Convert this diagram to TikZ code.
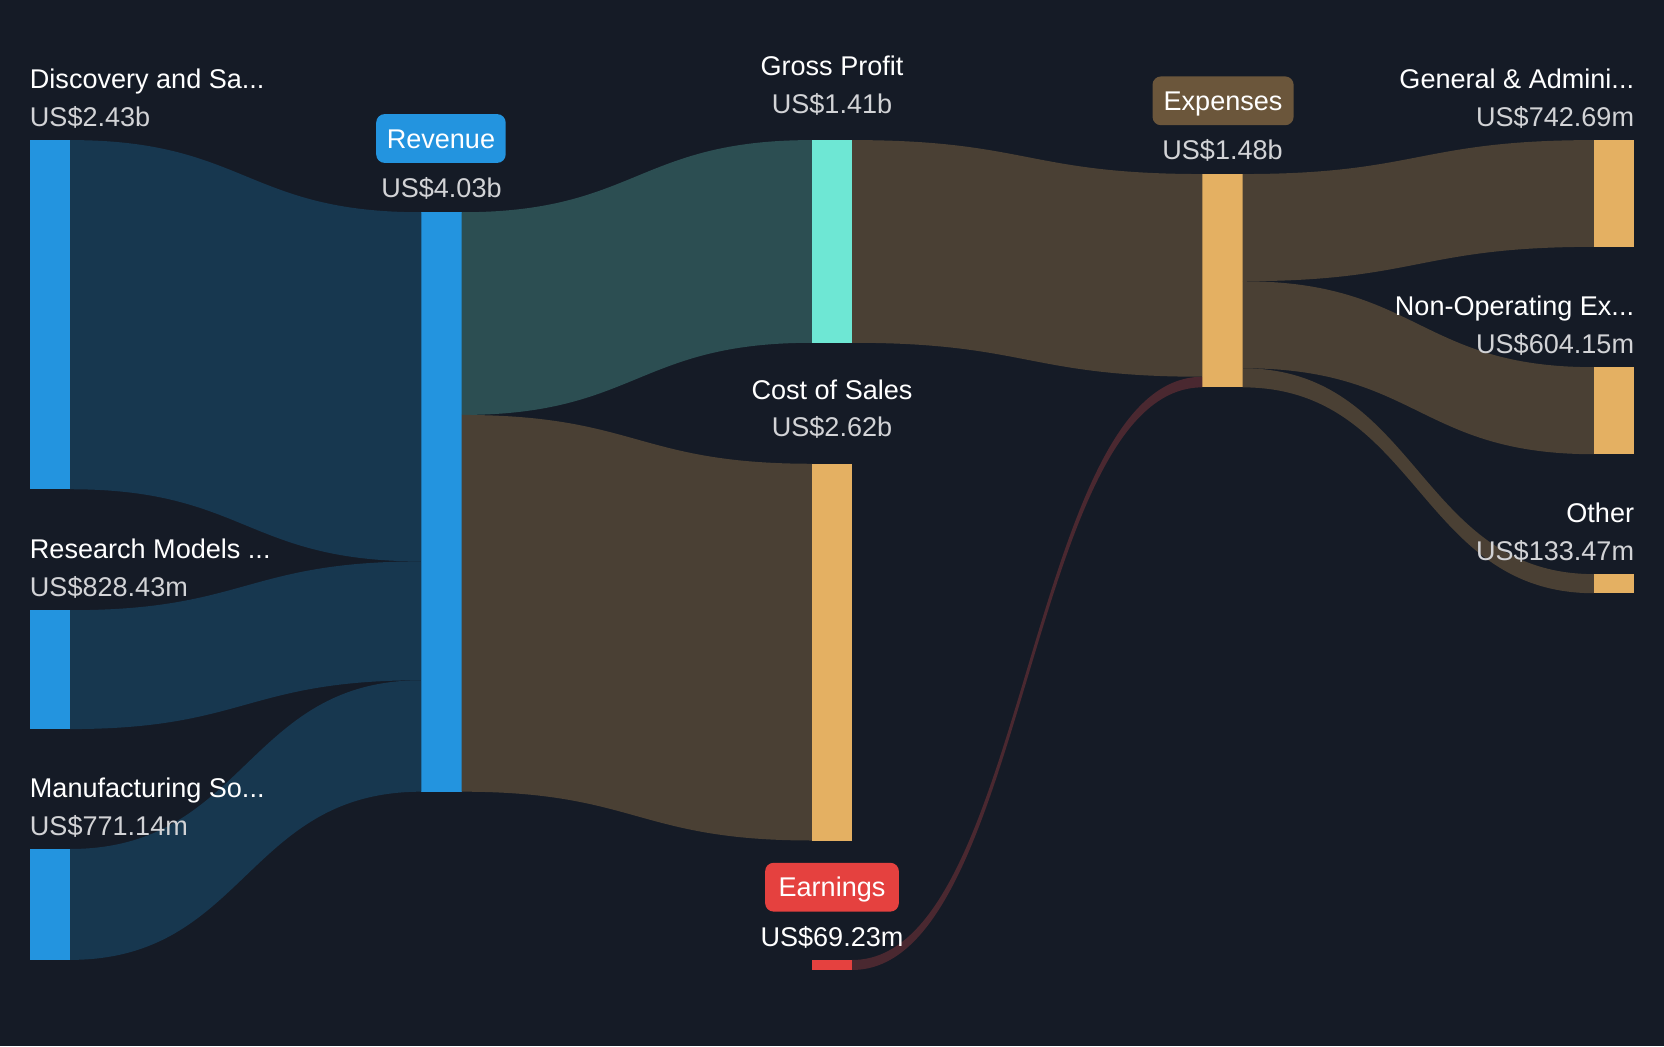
\documentclass[tikz,border=0pt]{standalone}
\usepackage{fontspec}
\setmainfont{Liberation Sans}
\usetikzlibrary{calc}
\definecolor{cBg}{HTML}{151B26}
\definecolor{cBlue}{HTML}{2394DF}
\definecolor{cBlueFlow}{HTML}{17374F}
\definecolor{cTeal}{HTML}{6EE7D4}
\definecolor{cTealFlow}{HTML}{2C4E52}
\definecolor{cOrange}{HTML}{E4B062}
\definecolor{cBrownFlow}{HTML}{4A4034}
\definecolor{cRed}{HTML}{E5413F}
\definecolor{cRedFlow}{HTML}{4A2830}
\definecolor{cExpBox}{HTML}{6B563B}
\definecolor{cVal}{HTML}{D2D3D6}
\newcommand\band[7]{%
  \fill[#1] let \p1=($(#2.north east)+(0,#3)$), \p2=($(#2.north east)+(0,#4)$),
    \p3=($(#5.north west)+(0,#6)$), \p4=($(#5.north west)+(0,#7)$),
    \n1={0.5*(\x1+\x3)} in
    (\p1) .. controls (\n1,\y1) and (\n1,\y3) .. (\p3) -- (\p4)
    .. controls (\n1,\y4) and (\n1,\y2) .. (\p2) -- cycle;}
\tikzset{
  bar/.style={draw=none, inner sep=0pt, outer sep=0pt, minimum width=38pt,
    minimum height=#1pt, anchor=north west},
  lab/.style={font=\fontsize{25.5}{30}\selectfont, text=white, inner sep=0pt},
  val/.style={lab, text=cVal},
  tagbox/.style={lab, rounded corners=8pt, text height=18.3pt, text depth=0pt,
    minimum height=46pt, inner xsep=0pt},
}
\begin{document}
\begin{tikzpicture}[x=1pt,y=-1pt]
\fill[cBg] (0,0) rectangle (1568,986);
\useasboundingbox (0,0) rectangle (1568,986);
% bars
\node[bar=329, fill=cBlue] (disc) at (28,132) {};
\node[bar=112, fill=cBlue] (res) at (28,575) {};
\node[bar=104.5, fill=cBlue] (man) at (28,800) {};
\node[bar=546, fill=cBlue] (rev) at (397,200) {};
\node[bar=191, fill=cTeal] (gp) at (765,132) {};
\node[bar=355, fill=cOrange] (cos) at (765,437) {};
\node[bar=9.4, fill=cRed] (earn) at (765,904.6) {};
\node[bar=201, fill=cOrange] (exp) at (1133,164) {};
\node[bar=100.6, fill=cOrange] (ga) at (1502,132) {};
\node[bar=82, fill=cOrange] (nonop) at (1502,346) {};
\node[bar=18, fill=cOrange] (other) at (1502,541) {};
% flows
\band{cBlueFlow}{disc}{0}{329}{rev}{0}{329}
\band{cBlueFlow}{res}{0}{112}{rev}{329}{441}
\band{cBlueFlow}{man}{0}{104.5}{rev}{441}{546}
\band{cTealFlow}{rev}{0}{191}{gp}{0}{191}
\band{cBrownFlow}{rev}{191}{546}{cos}{0}{355}
\band{cBrownFlow}{gp}{0}{191}{exp}{0}{191}
\band{cRedFlow}{earn}{0}{9.4}{exp}{191}{201}
\band{cBrownFlow}{exp}{0}{101}{ga}{0}{100.6}
\band{cBrownFlow}{exp}{101}{183}{nonop}{0}{82}
\band{cBrownFlow}{exp}{183}{201}{other}{0}{18}
% left labels
\node[lab, anchor=base west] (discN) at (28,83) {Discovery and Sa...};
\node[val, anchor=base west] (discV) at (28,119) {US\$2.43b};
\node[lab, anchor=base west] (resN) at (28,526.5) {Research Models ...};
\node[val, anchor=base west] (resV) at (28,562) {US\$828.43m};
\node[lab, anchor=base west] (manN) at (28,751.5) {Manufacturing So...};
\node[val, anchor=base west] (manV) at (28,787) {US\$771.14m};
% revenue
\node[tagbox, fill=cBlue, minimum width=122pt] (revN) at (415.5,130.5) {Revenue};
\node[val, anchor=base] (revV) at (416,186) {US\$4.03b};
% middle column
\node[lab, anchor=base] (gpN) at (784,71.6) {Gross Profit};
\node[val, anchor=base] (gpV) at (784,107) {US\$1.41b};
\node[lab, anchor=base] (cosN) at (784,376.5) {Cost of Sales};
\node[val, anchor=base] (cosV) at (784,411.5) {US\$2.62b};
\node[tagbox, fill=cRed, minimum width=126pt] (earnN) at (784,836) {Earnings};
\node[val, anchor=base, text=white] (earnV) at (784,891.5) {US\$69.23m};
% expenses
\node[tagbox, fill=cExpBox, minimum width=133pt] (expN) at (1152.5,95) {Expenses};
\node[val, anchor=base] (expV) at (1152,150.5) {US\$1.48b};
% right labels
\node[lab, anchor=base east] (gaN) at (1540,83) {General \& Admini...};
\node[val, anchor=base east] (gaV) at (1540,119) {US\$742.69m};
\node[lab, anchor=base east] (nonopN) at (1540,297.5) {Non-Operating Ex...};
\node[val, anchor=base east] (nonopV) at (1540,333) {US\$604.15m};
\node[lab, anchor=base east] (otherN) at (1540,492.5) {Other};
\node[val, anchor=base east] (otherV) at (1540,528) {US\$133.47m};
\end{tikzpicture}
\end{document}
